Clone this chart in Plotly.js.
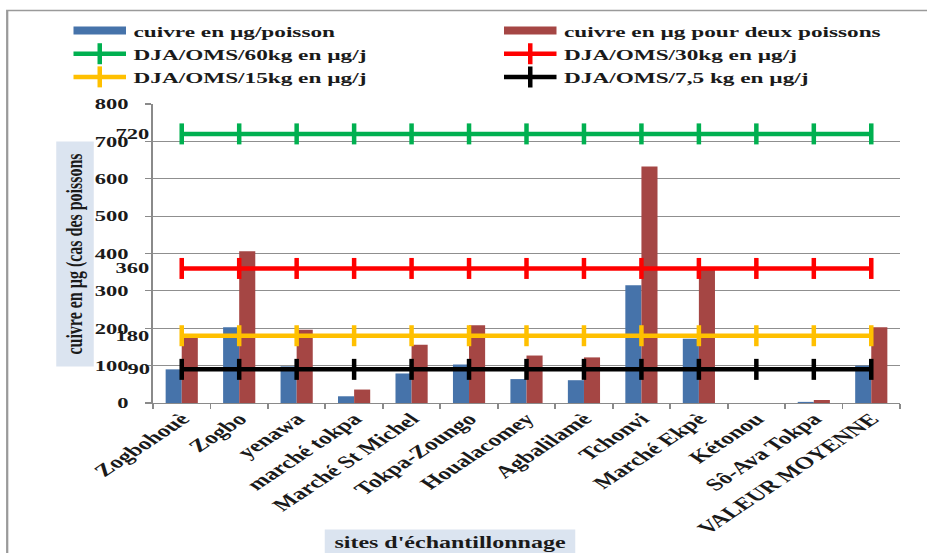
<!DOCTYPE html>
<html>
<head>
<meta charset="utf-8">
<script src="https://cdn.plot.ly/plotly-3.0.1.min.js"></script>
<style>
  html, body { margin: 0; padding: 0; background: #fff; overflow: hidden; }
  #wrap { width: 927px; height: 553px; overflow: hidden; position: relative; }
  /* the chart is laid out narrow and widened horizontally */
  #chart { width: 618px; height: 553px; transform: scaleX(1.5); transform-origin: 0 0; }
</style>
</head>
<body>
<div id="wrap"><div id="chart"></div></div>
<script>
// sampling sites
const sites = [
  "Zogbohouè", "Zogbo", "yenawa", "marché tokpa", "Marché St Michel",
  "Tokpa-Zoungo", "Houalacomey", "Agbalilamè", "Tchonvi", "Marché Ekpè",
  "Kétonou", "Sô-Ava Tokpa", "VALEUR MOYENNE"
];
// copper per fish (µg)
const cuivreParPoisson = [90, 203, 98, 18, 79, 103, 64, 61, 315, 172, 0, 3, 100];
// copper for two fish (µg)
const cuivreDeuxPoissons = [176, 406, 196, 36, 156, 208, 127, 122, 633, 357, 0, 8, 203];
// WHO acceptable daily intake levels (µg/j) by body weight
const djaNames = [
  "DJA/OMS/60kg en µg/j", "DJA/OMS/30kg en µg/j",
  "DJA/OMS/15kg en µg/j", "DJA/OMS/7,5 kg en µg/j"
];
const djaLevels = [720, 360, 180, 90];
const djaColors = ["#00b050", "#ff0000", "#ffc000", "#000000"];
const djaLegend = ["legend", "legend2", "legend", "legend2"];

const barBlue = "#4673aa";
const barRed = "#a54644";
const serif = "Liberation Serif, Times New Roman, serif";
const inkColor = "#1a1a1a";

// layout geometry in (unscaled) pixels
const W = 618, H = 553;
const M = { l: 102, r: 18, t: 104, b: 150 };
const plotW = W - M.l - M.r, plotH = H - M.t - M.b;
const px2x = (px) => (px - M.l) / plotW;
const py2y = (py) => (H - M.b - py) / plotH;

const traces = [];

traces.push({
  type: "bar", x: sites, y: cuivreParPoisson, name: "cuivre en µg/poisson",
  marker: { color: barBlue }, showlegend: false
});
traces.push({
  type: "bar", x: sites, y: cuivreDeuxPoissons, name: "cuivre en µg pour deux poissons",
  marker: { color: barRed }, showlegend: false
});

// legend swatches for the two bar series (no visible points)
traces.push({
  type: "scatter", mode: "lines", x: [sites[0]], y: [null], name: "cuivre en µg/poisson",
  line: { color: barBlue, width: 8 }, legend: "legend", legendrank: 1
});
traces.push({
  type: "scatter", mode: "lines", x: [sites[0]], y: [null], name: "cuivre en µg pour deux poissons",
  line: { color: barRed, width: 8 }, legend: "legend2", legendrank: 1
});

djaLevels.forEach((lvl, i) => {
  traces.push({
    type: "scatter", mode: "lines+markers",
    x: sites, y: sites.map(() => lvl),
    name: djaNames[i],
    legend: djaLegend[i], legendrank: 2 + i,
    line: { color: djaColors[i], width: 4.5 },
    marker: { symbol: "line-ns", size: 15, color: djaColors[i], line: { color: djaColors[i], width: 3 } },
    error_x: { type: "constant", value: 0.21, width: 0, thickness: 4.5, color: djaColors[i] }
  });
});

const annotations = djaLevels.map((lvl) => ({
  x: sites[0], y: lvl, xref: "x", yref: "y",
  text: String(lvl), showarrow: false,
  xanchor: "right", yanchor: "middle", xshift: -19,
  font: { family: serif, size: 15, color: inkColor, weight: "bold" }
}));

annotations.push({
  xref: "paper", yref: "paper", x: px2x(50), y: py2y(254),
  xanchor: "center", yanchor: "middle",
  text: "<b>cuivre en µg (cas des poissons</b>", showarrow: false, textangle: -90,
  width: 224, height: 24, borderpad: 0, bgcolor: "#dbe4f0",
  font: { family: serif, size: 16, color: inkColor }
});
annotations.push({
  xref: "paper", yref: "paper", x: px2x(300), y: py2y(543),
  xanchor: "center", yanchor: "middle",
  text: "<b>sites d'échantillonnage</b>", showarrow: false,
  width: 166, height: 26, borderpad: 0, bgcolor: "#dbe4f0",
  font: { family: serif, size: 16, color: inkColor }
});

const legendStyle = {
  orientation: "v", xanchor: "left", yanchor: "top",
  y: py2y(14), bgcolor: "rgba(0,0,0,0)", borderwidth: 0,
  itemwidth: 35, traceorder: "normal", tracegroupgap: 0,
  font: { family: serif, size: 15.5, color: inkColor, weight: "bold" }
};

const layout = {
  width: W, height: H,
  margin: M,
  paper_bgcolor: "#ffffff", plot_bgcolor: "#ffffff",
  barmode: "group", bargap: 0.44, bargroupgap: 0,
  showlegend: true,
  legend: Object.assign({}, legendStyle, { x: px2x(44) }),
  legend2: Object.assign({}, legendStyle, { x: px2x(331) }),
  xaxis: {
    type: "category", range: [-0.5, sites.length - 0.5], autorange: false,
    tickangle: -45,
    tickfont: { family: serif, size: 17, color: inkColor, weight: "bold" },
    ticks: "outside", tickson: "boundaries", ticklen: 5, tickcolor: "#8a8a8a", tickwidth: 1.2,
    ticklabelstandoff: -2,
    showline: true, linecolor: "#8a8a8a", linewidth: 1.3,
    showgrid: false, zeroline: false, fixedrange: true
  },
  yaxis: {
    range: [0, 800], tick0: 0, dtick: 100,
    tickfont: { family: serif, size: 15, color: inkColor, weight: "bold" },
    ticks: "outside", ticklen: 4, tickcolor: "#8a8a8a", tickwidth: 1.2,
    ticklabelstandoff: 8,
    showline: true, linecolor: "#8a8a8a", linewidth: 1.3,
    showgrid: true, gridcolor: "#8f8f8f", gridwidth: 1.2,
    zeroline: false, fixedrange: true
  },
  annotations: annotations,
  shapes: [{
    type: "path", xref: "paper", yref: "paper", layer: "below",
    path: "M" + px2x(4.8) + "," + py2y(600) + " L" + px2x(4.8) + "," + py2y(10.5) +
          " L" + px2x(700) + "," + py2y(10.5),
    line: { color: "#9a9a9a", width: 1.5 }
  }]
};

Plotly.newPlot("chart", traces, layout, { staticPlot: true, displayModeBar: false });
</script>
</body>
</html>
